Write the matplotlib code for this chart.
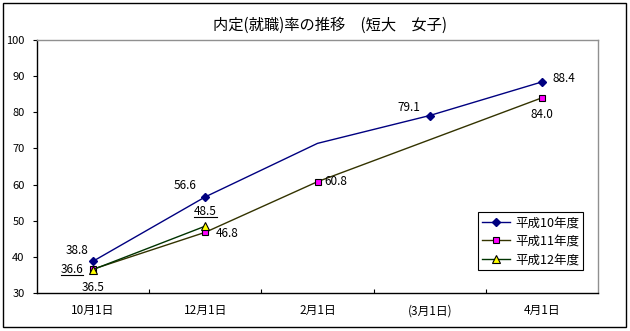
import matplotlib
matplotlib.use("Agg")
import matplotlib.pyplot as plt
from matplotlib.lines import Line2D
from matplotlib.patches import Rectangle
from matplotlib.transforms import IdentityTransform

plt.rcParams['font.family'] = ['Noto Sans CJK JP', 'DejaVu Sans']

title = "内定(就職)率の推移　(短大　女子)"
categories = ["10月1日", "12月1日", "2月1日", "(3月1日)", "4月1日"]
series_names = ["平成10年度", "平成11年度", "平成12年度"]
h10 = [38.8, 56.6, 71.4, 79.1, 88.4]
h11 = [36.6, 46.8, 60.8, None, 84.0]
h12 = [36.5, 48.5, None, None, None]
h10_marked = [0, 1, 3, 4]
y_ticks = [30, 40, 50, 60, 70, 80, 90, 100]

W, H = 630, 331
fig = plt.figure(figsize=(W / 100, H / 100), dpi=100)
ax = fig.add_axes([37 / W, 1 - 293 / H, (598 - 37) / W, (293 - 40) / H])

def pts(vals):
    xs = [i for i, v in enumerate(vals) if v is not None]
    ys = [v for v in vals if v is not None]
    return xs, ys

x10, y10 = pts(h10)
ax.plot(x10, y10, color='#000080', lw=1, marker='D', ms=4.5, mfc='#000080',
        mec='#000080', markevery=h10_marked, label=series_names[0])
x11, y11 = pts(h11)
ax.plot(x11, y11, color='#333300', lw=1, marker='s', ms=5, mfc='#ff00ff',
        mec='black', mew=0.8, label=series_names[1])
x12, y12 = pts(h12)
ax.plot(x12, y12, color='#003300', lw=1, marker='^', ms=6, mfc='#ffff00',
        mec='black', mew=0.8, label=series_names[2])

ax.set_xlim(-0.5, len(categories) - 0.5)
ax.set_ylim(30, 100)
ax.set_yticks(y_ticks)
ax.set_yticklabels([str(v) for v in y_ticks])
ax.set_xticks(range(len(categories)))
ax.set_xticklabels(categories)
ax.set_xticks([i + 0.5 for i in range(len(categories) - 1)], minor=True)
ax.tick_params(axis='x', which='major', length=0, pad=8, labelsize=8.5)
ax.tick_params(axis='x', which='minor', direction='in', length=3, width=0.8)
ax.tick_params(axis='y', direction='out', length=3, width=0.8, pad=6, labelsize=8)

for s in ['left', 'bottom']:
    ax.spines[s].set_color('black')
    ax.spines[s].set_linewidth(1)
for s in ['top', 'right']:
    ax.spines[s].set_color('#909090')
    ax.spines[s].set_linewidth(1)

fig.text(330 / W, 1 - 25 / H, title, ha='center', va='center', fontsize=11)

# data labels: (x index, value, dx px, dy px, underline)
labels = [
    (0, h10[0], -16, 11, False),
    (0, h11[0], -21, 0, True),
    (0, h12[0], 0, -18, False),
    (1, h10[1], -20, 11, False),
    (1, h12[1], 0, 15, True),
    (1, h11[1], 22, -1, False),
    (2, h11[2], 18, 0, False),
    (3, h10[3], -21, 8, False),
    (4, h10[4], 22, 3, False),
    (4, h11[4], 0, -17, False),
]
texts = []
for xi, v, dx, dy, ul in labels:
    t = ax.annotate(f"{v:.1f}", (xi, v), xytext=(dx, dy), textcoords='offset pixels',
                    ha='center', va='center', fontsize=8.5)
    texts.append((t, ul))

leg = ax.legend(loc='lower left', bbox_to_anchor=(0.786, 0.09), fontsize=9,
                frameon=True, fancybox=False, edgecolor='black', framealpha=1,
                borderpad=0.3, labelspacing=0.45, handlelength=2.3, handletextpad=0.4,
                borderaxespad=0)
leg.get_frame().set_linewidth(0.8)

fig.add_artist(Rectangle((3 / W, 1 - 327 / H), 623 / W, 324 / H, transform=fig.transFigure,
                         fill=False, edgecolor='black', lw=1))

fig.canvas.draw()
r = fig.canvas.get_renderer()
for t, ul in texts:
    if ul:
        bb = t.get_window_extent(r)
        fig.add_artist(Line2D([bb.x0, bb.x1], [bb.y0 + 1, bb.y0 + 1], color='black',
                              lw=0.8, transform=IdentityTransform()))

fig.savefig("out.png", dpi=100)
